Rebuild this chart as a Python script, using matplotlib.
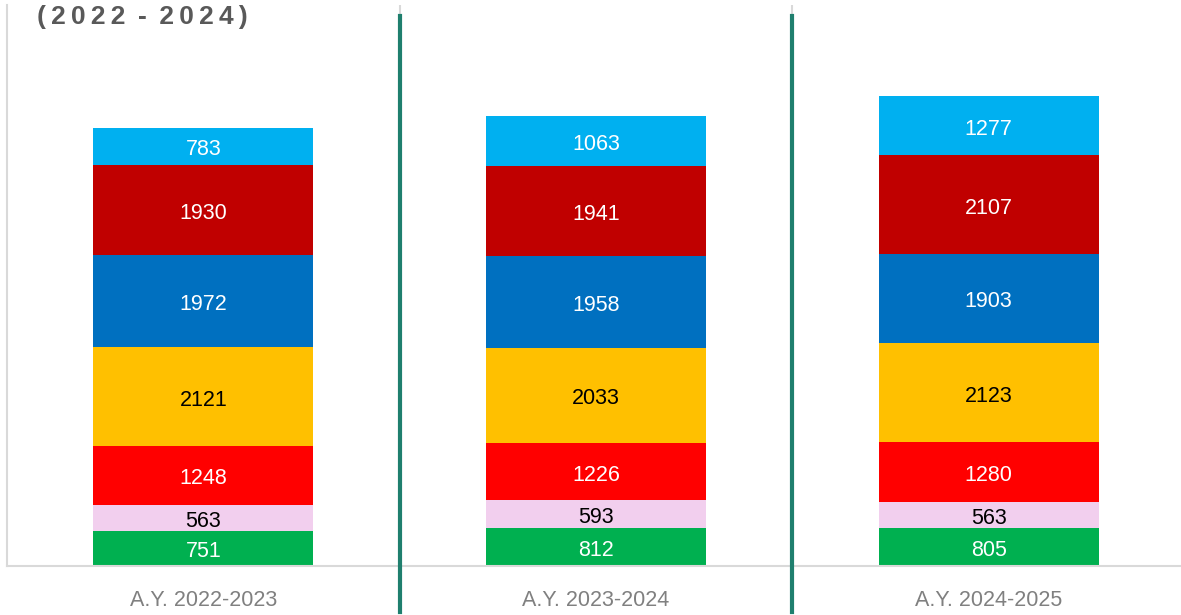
# Stacked bars by academic year
import matplotlib.pyplot as plt
import numpy as np

plt.rcParams['font.family'] = ['Liberation Sans', 'DejaVu Sans']

years = ['A.Y. 2022-2023', 'A.Y. 2023-2024', 'A.Y. 2024-2025']

# series from bottom to top
green = [751, 812, 805]
pink = [563, 593, 563]
red = [1248, 1226, 1280]
yellow = [2121, 2033, 2123]
blue = [1972, 1958, 1903]
darkred = [1930, 1941, 2107]
lightblue = [783, 1063, 1277]

series = [green, pink, red, yellow, blue, darkred, lightblue]
colors = ['#00B050', '#F2CFEE', '#FF0000', '#FFC000', '#0070C0', '#C00000', '#00B0F0']
text_colors = ['white', 'black', 'white', 'black', 'white', 'white', 'white']

fig = plt.figure(figsize=(11.81, 6.15), dpi=100)
ax = fig.add_axes([0.0059, 0.0797, 0.9975, 0.9122])

x = np.arange(len(years))
bottom = np.zeros(len(years))
for vals, c, tc in zip(series, colors, text_colors):
    bars = ax.bar(x, vals, 0.56, bottom=bottom, color=c, edgecolor='none')
    labels = ax.bar_label(bars, labels=[str(v) for v in vals], label_type='center',
                          color=tc, fontsize=15.5)
    for t in labels:
        t.set_y(t.get_position()[1] - 2.5)
    bottom += np.array(vals)

ax.set_xlim(-0.5, 2.5)
ax.set_ylim(0, 12000)
ax.set_xticks(x)
ax.set_xticklabels(years, color='#808080', fontsize=15.5)
ax.tick_params(axis='x', length=0, pad=17)
ax.set_yticks([])

for s in ['top', 'right']:
    ax.spines[s].set_visible(False)
for s in ['left', 'bottom']:
    ax.spines[s].set_color('#D9D9D9')
    ax.spines[s].set_linewidth(1.5)

# light gray separators with green lines on top
for xs in [0.5, 1.5]:
    ax.axvline(xs, color='#D9D9D9', lw=1.5, zorder=0)
    ax.plot([xs, xs], [-0.082, 0.98], color='#1F7F6E', lw=3,
            transform=ax.get_xaxis_transform(), clip_on=False, zorder=5)

fig.text(0.031, 0.972, '(\u20092\u20090\u20092\u20092\u2009 - \u20092\u20090\u20092\u20094\u2009)',
         fontsize=19, fontweight='bold', color='#595959', va='center', ha='left')

fig.savefig('out.png', dpi=100)
